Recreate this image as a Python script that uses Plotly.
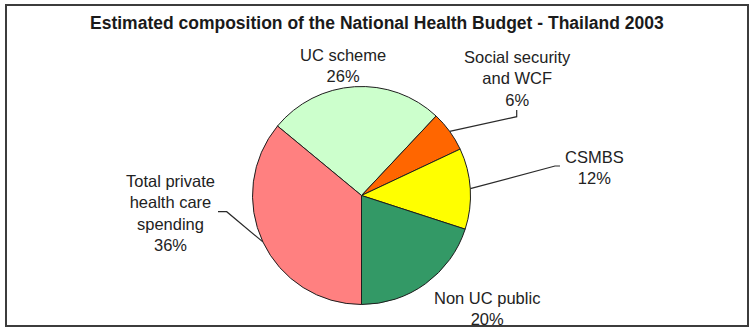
import math
import plotly.graph_objects as go

# Budget shares (percent), listed clockwise starting from the UC scheme slice
categories = ["UC scheme", "Social security and WCF", "CSMBS", "Non UC public",
              "Total private health care spending"]
shares = [26, 6, 12, 20, 36]
slice_colors = ["#CCFFCC", "#FF6600", "#FFFF00", "#339966", "#FF8080"]
label_lines = [["UC scheme"], ["Social security", "and WCF"], ["CSMBS"],
               ["Non UC public"], ["Total private", "health care", "spending"]]

W, H = 751, 328
CX, CY, R = 361.5, 195.5, 109       # pie centre and radius in pixels
START_ANGLE = -50.4                 # first slice starts here (deg clockwise from 12 o'clock)


def px(x):
    return x / W


def py(y):
    return 1 - y / H


def edge_point(idx, r=R):
    """Point on the pie rim at the middle of slice idx."""
    total = sum(shares)
    a0 = START_ANGLE + 360 * sum(shares[:idx]) / total
    mid = math.radians(a0 + 180 * shares[idx] / total)
    return CX + r * math.sin(mid), CY - r * math.cos(mid)


fig = go.Figure(go.Pie(
    labels=categories,
    values=shares,
    sort=False,
    direction="clockwise",
    rotation=START_ANGLE,
    marker=dict(colors=slice_colors, line=dict(color="#1e1e1e", width=1)),
    textinfo="none",
    hovertemplate="%{label}: %{value}%<extra></extra>",
    domain=dict(x=[px(CX - R), px(CX + R)], y=[py(CY + R), py(CY - R)]),
    showlegend=False,
))

# label block centres (pixels)
label_pos = {0: (343, 65), 1: (517, 78), 2: (594, 167.5), 3: (487, 308.5), 4: (170, 213)}

annotations = [dict(
    text="<b>Estimated composition of the National Health Budget - Thailand 2003</b>",
    x=px(377), y=py(23), xref="paper", yref="paper", showarrow=False,
    xanchor="center", yanchor="middle",
    font=dict(family="Liberation Sans, Arial, sans-serif", size=17.5, color="#1a1a1a"),
)]
for i, lines in enumerate(label_lines):
    x, y = label_pos[i]
    annotations.append(dict(
        text="<br>".join(lines + [f"{shares[i]}%"]),
        x=px(x), y=py(y), xref="paper", yref="paper", showarrow=False,
        xanchor="center", yanchor="middle", align="center",
        font=dict(family="Liberation Sans, Arial, sans-serif", size=16.5, color="#222222"),
    ))

# leader lines: rim point -> elbow -> end next to the label
leaders = {
    1: [(516.7, 116.7), (516.7, 110)],
    2: [(555, 166), (560, 166)],
    4: [(226.7, 211.7), (218, 211.7)],
}
shapes = []
for i, pts in leaders.items():
    path_pts = [edge_point(i)] + pts
    d = "M " + " L ".join(f"{px(x):.5f},{py(y):.5f}" for x, y in path_pts)
    shapes.append(dict(type="path", path=d, xref="paper", yref="paper",
                       line=dict(color="#2a2a2a", width=1.2)))

# chart frame
shapes.append(dict(type="rect", xref="paper", yref="paper",
                   x0=px(6), x1=px(748), y0=py(326), y1=py(5),
                   line=dict(color="#3c3c3c", width=2)))

fig.update_layout(
    width=W, height=H, autosize=False,
    margin=dict(l=0, r=0, t=0, b=0),
    paper_bgcolor="white", plot_bgcolor="white",
    annotations=annotations, shapes=shapes,
)

fig.write_html("out.html")
